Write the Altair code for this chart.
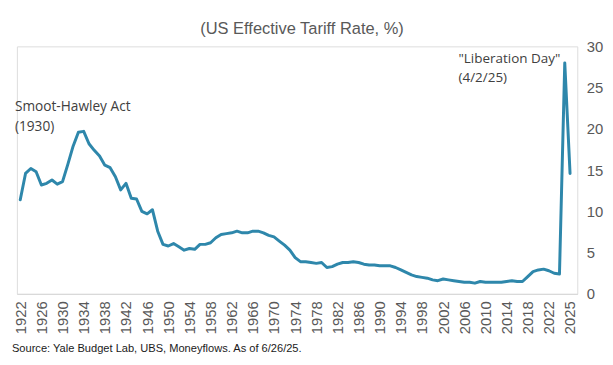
import altair as alt
import pandas as pd

# Categories: annual 1922-2024, then two 2025 readings (Liberation Day peak, latest)
periods = [str(y) for y in range(1922, 2025)] + ["Apr 2025", "2025"]

tariff = [
    11.4, 14.6, 15.2, 14.8, 13.2, 13.4, 13.8, 13.3, 13.6, 15.7,   # 1922-1931
    17.9, 19.6, 19.7, 18.2, 17.4, 16.7, 15.6, 15.3, 14.2, 12.6,   # 1932-1941
    13.4, 11.6, 11.5, 10.0, 9.7, 10.2, 7.6, 6.0, 5.8, 6.1,        # 1942-1951
    5.7, 5.3, 5.5, 5.4, 6.0, 6.0, 6.2, 6.8, 7.2, 7.3,             # 1952-1961
    7.4, 7.6, 7.4, 7.4, 7.6, 7.6, 7.4, 7.1, 6.9, 6.4,             # 1962-1971
    5.9, 5.3, 4.4, 3.9, 3.9, 3.8, 3.7, 3.8, 3.2, 3.3,             # 1972-1981
    3.6, 3.8, 3.8, 3.9, 3.8, 3.6, 3.5, 3.5, 3.4, 3.4,             # 1982-1991
    3.4, 3.2, 2.9, 2.6, 2.3, 2.1, 2.0, 1.9, 1.7, 1.6,             # 1992-2001
    1.8, 1.7, 1.6, 1.5, 1.4, 1.4, 1.3, 1.5, 1.4, 1.4,             # 2002-2011
    1.4, 1.4, 1.5, 1.6, 1.5, 1.5, 2.1, 2.7, 2.9, 3.0,             # 2012-2021
    2.8, 2.5, 2.4,                                                 # 2022-2024
    28.0, 14.6,                                                    # 2025
]

x_ticks = [str(y) for y in range(1922, 2023, 4)] + ["2025"]
y_ticks = [0, 5, 10, 15, 20, 25, 30]

title_text = "(US Effective Tariff Rate, %)"
source_text = "Source: Yale Budget Lab, UBS, Moneyflows. As of 6/26/25."
smoot_lines = ["Smoot-Hawley Act", "(1930)"]
liberation_lines = ['"Liberation Day"', "(4/2/25)"]

df = pd.DataFrame({"period": periods, "value": tariff})

AXIS_GRAY = "#595959"
LINE_COLOR = "#2E87AB"

line = alt.Chart(df).mark_line(
    color=LINE_COLOR, strokeWidth=3, strokeJoin="round", strokeCap="round"
).encode(
    x=alt.X(
        "period:O",
        sort=periods,
        scale=alt.Scale(type="point", padding=1.1, align=0.316),
        axis=alt.Axis(
            values=x_ticks,
            labelAngle=270,
            title=None,
            ticks=False,
            grid=False,
            domainColor="#d9d9d9",
            domainWidth=1.5,
            labelColor=AXIS_GRAY,
            labelFont="Liberation Sans",
            labelFontSize=15,
            labelPadding=7,
            labelOverlap=False,
        ),
    ),
    y=alt.Y(
        "value:Q",
        scale=alt.Scale(domain=[0, 30], nice=False, zero=True),
        axis=alt.Axis(
            orient="right",
            values=y_ticks,
            title=None,
            ticks=False,
            domain=False,
            grid=False,
            labelColor=AXIS_GRAY,
            labelFont="Liberation Sans",
            labelFontSize=15,
            labelPadding=9,
            labelFlush=False,
        ),
    ),
)

note_df = pd.DataFrame({"t": [0]})

title = alt.Chart(note_df).mark_text(
    align="center", baseline="alphabetic", font="Liberation Sans", fontSize=16.6,
    color=AXIS_GRAY,
).encode(x=alt.value(288), y=alt.value(-12), text=alt.value(title_text))

smoot = alt.Chart(note_df).mark_text(
    align="left", baseline="alphabetic", font="Open Sans", fontSize=13.8,
    color="#404040", lineHeight=20.5,
).encode(x=alt.value(-2), y=alt.value(65), text=alt.value(smoot_lines))

liberation = alt.Chart(note_df).mark_text(
    align="left", baseline="alphabetic", font="Open Sans", fontSize=13.6,
    color="#404040", lineHeight=18.5,
).encode(x=alt.value(446), y=alt.value(17), text=alt.value(liberation_lines))

source = alt.Chart(note_df).mark_text(
    align="left", baseline="alphabetic", font="Liberation Sans", fontSize=11.2,
    color="#1a1a1a",
).encode(x=alt.value(-5), y=alt.value(309), text=alt.value(source_text))

chart = alt.layer(line, title, smoot, liberation, source).properties(
    width=566,
    height=250,
    padding={"left": 9, "top": 37, "right": 28, "bottom": 62},
    autosize=alt.AutoSizeParams(type="none"),
).configure_view(stroke=None).configure(background="white")

chart.save("out.html", embed_options={"renderer": "svg", "actions": False})
